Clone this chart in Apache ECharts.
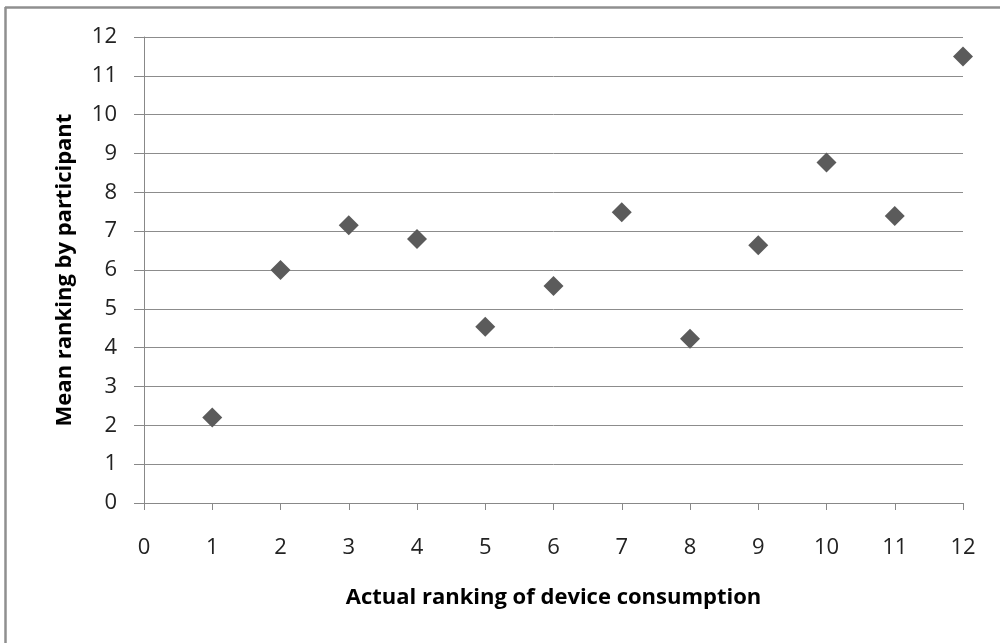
<!DOCTYPE html>
<html>
<head>
<meta charset="utf-8">
<script src="https://cdn.jsdelivr.net/npm/echarts@6/dist/echarts.min.js"></script>
<style>
html,body{margin:0;padding:0;background:#fff;}
#chart{width:1000px;height:643px;}
</style>
</head>
<body>
<div id="chart"></div>
<script>
const actualRank = [1, 2, 3, 4, 5, 6, 7, 8, 9, 10, 11, 12];
const meanRank = [2.2, 6.0, 7.15, 6.8, 4.54, 5.59, 7.49, 4.23, 6.64, 8.77, 7.39, 11.5];
const xTicks = [0, 12, 1];
const yTicks = [0, 12, 1];
const xTitle = 'Actual ranking of device consumption';
const yTitle = 'Mean ranking by participant';

const points = actualRank.map((x, i) => [x, meanRank[i]]);
const FONT = '"Open Sans", sans-serif';

const chart = echarts.init(document.getElementById('chart'), null, {renderer: 'canvas'});
chart.setOption({
  animation: false,
  backgroundColor: '#fff',
  graphic: [
    {type: 'line', shape: {x1: 5.5, y1: 7, x2: 5.5, y2: 643}, style: {stroke: '#8f8f8f', lineWidth: 2.5}},
    {type: 'line', shape: {x1: 5, y1: 7.5, x2: 1000, y2: 7.5}, style: {stroke: '#8f8f8f', lineWidth: 2.5}}
  ],
  grid: {left: 144, right: 37, top: 37, bottom: 140, containLabel: false},
  xAxis: {
    type: 'value',
    min: xTicks[0], max: xTicks[1], interval: xTicks[2],
    name: xTitle,
    nameLocation: 'middle',
    nameGap: 84,
    nameTextStyle: {fontFamily: FONT, fontWeight: 'bold', fontSize: 22, color: '#000'},
    axisLine: {show: true, lineStyle: {color: '#888', width: 1}},
    axisTick: {show: true, inside: false, length: 7, lineStyle: {color: '#888'}},
    axisLabel: {margin: 34, fontFamily: FONT, fontSize: 22, color: '#222'},
    splitLine: {show: false}
  },
  yAxis: {
    type: 'value',
    min: yTicks[0], max: yTicks[1], interval: yTicks[2],
    name: yTitle,
    nameLocation: 'middle',
    nameGap: 68,
    nameRotate: 90,
    nameTextStyle: {fontFamily: FONT, fontWeight: 'bold', fontSize: 22, color: '#000'},
    axisLine: {show: true, lineStyle: {color: '#888', width: 1}},
    axisTick: {show: true, inside: false, length: 10, lineStyle: {color: '#888'}},
    axisLabel: {margin: 27, fontFamily: FONT, fontSize: 22, color: '#222'},
    splitLine: {show: true, lineStyle: {color: '#8c8c8c', width: 1}}
  },
  series: [{
    type: 'scatter',
    data: points,
    symbol: 'diamond',
    symbolSize: [20, 20],
    itemStyle: {color: '#5b5b5b', opacity: 1},
    z: 5
  }]
});
</script>
</body>
</html>
